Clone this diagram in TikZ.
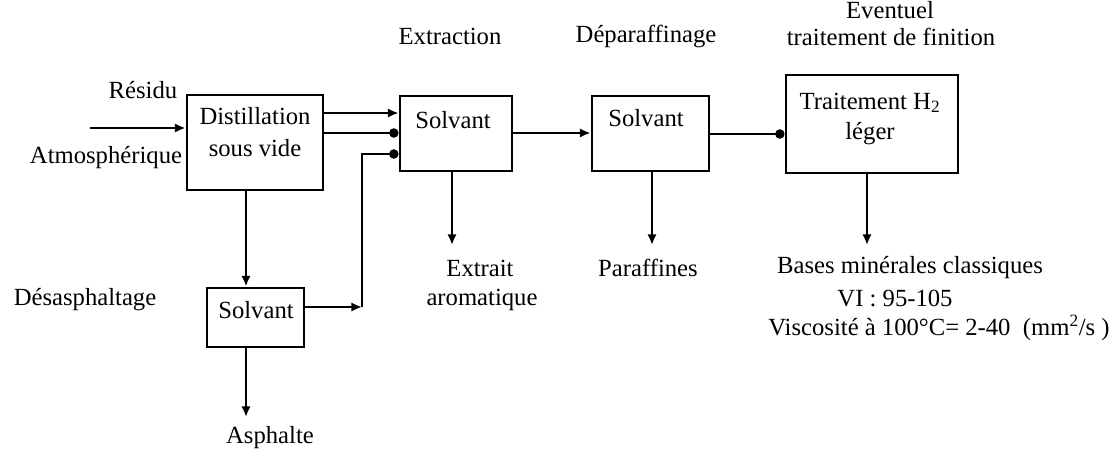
\documentclass[tikz,border=0pt]{standalone}
\usepackage{fontspec}
\setmainfont{Liberation Serif}
\usetikzlibrary{arrows.meta, positioning}

\tikzset{
  unit/.style={draw, line width=2.2pt, inner sep=0pt},
  lbl/.style={inner sep=0.75pt, font=\fontsize{18.5}{22}\selectfont},
  flow/.style={line width=2pt, -{Latex[length=8pt,width=7pt]}},
  dotflow/.style={line width=2pt, -{Circle[length=7pt]}},
}

\begin{document}
\begin{tikzpicture}[x=0.75pt,y=0.75pt,yscale=-1,xscale=1]
  \useasboundingbox (0,0) rectangle (1111,449);

  % Units
  \node [unit, minimum width=136*0.75pt, minimum height=95*0.75pt] (dist) at (255,142.5) {};
  \node [unit, minimum width=112*0.75pt, minimum height=75*0.75pt] (extr) at (456,133.5) {};
  \node [unit, minimum width=117*0.75pt, minimum height=75*0.75pt] (depa) at (650.5,133.5) {};
  \node [unit, minimum width=172*0.75pt, minimum height=98*0.75pt] (trait) at (872,124) {};
  \node [unit, minimum width=97*0.75pt, minimum height=59*0.75pt] (desa) at (255.5,317.5) {};

  % Texts in the units
  \node [lbl] (distA) at (255,116) {Distillation};
  \node [lbl] (distB) at (255,148) {sous vide};
  \node [lbl] (extrT) at (453,120) {Solvant};
  \node [lbl] (depaT) at (646,118) {Solvant};
  \node [lbl] (traitA) at (870,103) {Traitement H\textsubscript{2}};
  \node [lbl] (traitB) at (870,134) {léger};
  \node [lbl] (desaT) at (256,310) {Solvant};

  % Titles
  \node [lbl] (titEv) at (890,10) {Eventuel};
  \node [lbl] (titEx) at (450,36) {Extraction};
  \node [lbl] (titDe) at (646,36) {Déparaffinage};
  \node [lbl] (titFi) at (891,37) {traitement de finition};
  \node [lbl] (residu) at (143,90) {Résidu};
  \node [lbl] (atmo) at (106,158) {Atmosphérique};
  \node [lbl] (desaT2) at (85,300) {Désasphaltage};

  % Products
  \node [lbl] (asph) at (270,438) {Asphalte};
  \node [lbl] (arom1) at (480,268) {Extrait};
  \node [lbl] (arom2) at (482,300) {aromatique};
  \node [lbl] (paraf) at (648,268) {Paraffines};
  \node [lbl] (base1) at (910,268) {Bases minérales classiques};
  \node [lbl] (base2) at (895,298) {VI : 95-105};
  \node [lbl] (base3) at (939,328) {Viscosité à 100°C= 2-40\ \ (mm\textsuperscript{2}/s )};

  % Free ends
  \coordinate (feed) at (90,128);
  \coordinate (corner) at (362,307);
  \coordinate (asphEnd) at (246,417);
  \coordinate (aromEnd) at (452,245);
  \coordinate (parafEnd) at (652,245);
  \coordinate (baseEnd) at (867,245);

  % Flows
  \draw [flow] (feed) -- (feed -| dist.west);
  \draw [flow] (dist.east |- 0,113) -- (extr.west |- 0,113);
  \draw [dotflow] (dist.east |- 0,133) -- (extr.west |- 0,133);
  \draw [flow] (dist.south -| 246,0) -- (desa.north -| 246,0);
  \draw [flow] (desa.east |- corner) -- (corner);
  \draw [dotflow] (corner) |- (extr.west |- 0,154);
  \draw [flow] (desa.south -| 246,0) -- (asphEnd);
  \draw [flow] (extr.south -| aromEnd) -- (aromEnd);
  \draw [flow] (extr.east |- 0,133) -- (depa.west |- 0,133);
  \draw [flow] (depa.south -| parafEnd) -- (parafEnd);
  \draw [dotflow] (depa.east |- 0,134) -- (trait.west |- 0,134);
  \draw [flow] (trait.south -| baseEnd) -- (baseEnd);
\end{tikzpicture}
\end{document}
